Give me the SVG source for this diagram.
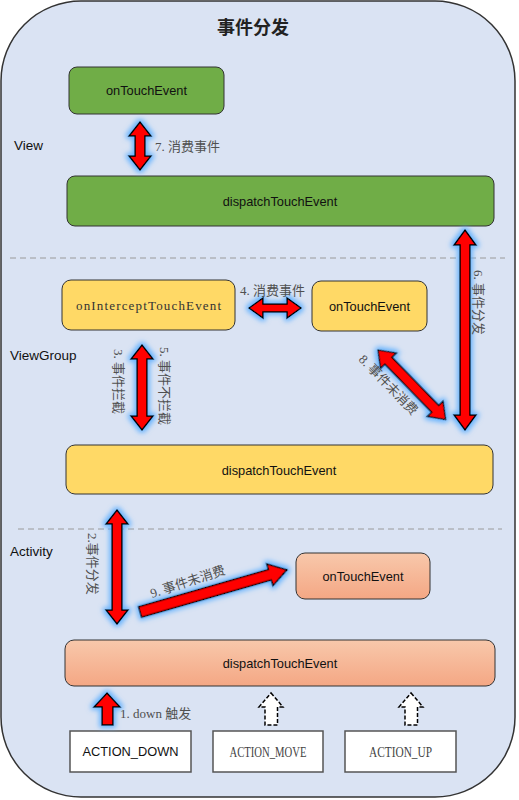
<svg xmlns="http://www.w3.org/2000/svg" width="519" height="800" viewBox="0 0 519 800">
<defs>
<style>
.box{stroke:#333;stroke-width:1}
.lbl{font-family:"Liberation Sans","Noto Sans",sans-serif;font-size:12.8px;fill:#111;text-anchor:middle}
.sec{font-family:"Liberation Sans","Noto Sans",sans-serif;font-size:13.5px;fill:#111}
.cn{font-family:"Liberation Serif","Noto Sans CJK SC",serif;font-size:13px;fill:#505050}
.arr{fill:#ff0000;stroke:#000;stroke-width:1.5;stroke-linejoin:miter;filter:url(#glow)}
.dash{stroke:#9a9a9a;stroke-width:1;stroke-dasharray:6 4}
.act{fill:#fff;stroke:#555;stroke-width:1.5}
</style>
<linearGradient id="sal" x1="0" y1="0" x2="0" y2="1">
<stop offset="0" stop-color="#f8c8ab"/>
<stop offset="1" stop-color="#f4a784"/>
</linearGradient>
<filter id="glow" x="-60%" y="-60%" width="220%" height="220%">
<feMorphology in="SourceAlpha" operator="dilate" radius="2" result="d"/>
<feGaussianBlur in="d" stdDeviation="2.5" result="b"/>
<feFlood flood-color="#5aaeff" flood-opacity="0.9"/>
<feComposite in2="b" operator="in" result="g"/>
<feMerge><feMergeNode in="g"/><feMergeNode in="SourceGraphic"/></feMerge>
</filter>
</defs>

<rect x="1" y="1" width="514" height="796" rx="80" ry="80" fill="#dae3f3" stroke="#333" stroke-width="1.5"/>
<text x="253" y="34" font-family="'Noto Sans CJK SC',sans-serif" font-size="18" font-weight="bold" fill="#222" text-anchor="middle">事件分发</text>

<line class="dash" x1="10" y1="258" x2="505" y2="258"/>
<line class="dash" x1="18" y1="529" x2="502" y2="529"/>

<text class="sec" x="14" y="150">View</text>
<text class="sec" x="10" y="360">ViewGroup</text>
<text class="sec" x="10" y="556">Activity</text>

<g id="view-onTouchEvent">
<rect class="box" x="69" y="67" width="155" height="47" rx="8" fill="#70ad47"/>
<text class="lbl" x="146.5" y="95">onTouchEvent</text>
</g>
<g id="view-dispatchTouchEvent">
<rect class="box" x="67" y="176" width="427" height="50" rx="8" fill="#70ad47"/>
<text class="lbl" x="280" y="206">dispatchTouchEvent</text>
</g>

<g id="vg-onInterceptTouchEvent">
<rect class="box" x="62" y="280" width="173" height="50" rx="9" fill="#ffd966"/>
<text x="148.5" y="310" font-family="'Liberation Serif',serif" font-size="13" fill="#333" text-anchor="middle" textLength="145" lengthAdjust="spacing">onInterceptTouchEvent</text>
</g>
<g id="vg-onTouchEvent">
<rect class="box" x="312" y="281" width="115" height="50" rx="9" fill="#ffd966"/>
<text class="lbl" x="369.5" y="311">onTouchEvent</text>
</g>
<g id="vg-dispatchTouchEvent">
<rect class="box" x="66" y="445" width="427" height="49" rx="9" fill="#ffd966"/>
<text class="lbl" x="279" y="475">dispatchTouchEvent</text>
</g>

<g id="act-onTouchEvent">
<rect class="box" x="296" y="553" width="134" height="46" rx="9" fill="url(#sal)"/>
<text class="lbl" x="363" y="581">onTouchEvent</text>
</g>
<g id="act-dispatchTouchEvent">
<rect class="box" x="65" y="640" width="430" height="46" rx="9" fill="url(#sal)"/>
<text class="lbl" x="280" y="668">dispatchTouchEvent</text>
</g>

<g id="action-down">
<rect class="act" x="70" y="731" width="121" height="41"/>
<text class="lbl" x="130.5" y="756">ACTION_DOWN</text>
</g>
<g id="action-move">
<rect class="act" x="213" y="731" width="110" height="41"/>
<text x="268" y="757" font-family="'Liberation Serif',serif" font-size="15" fill="#444" text-anchor="middle" textLength="77" lengthAdjust="spacingAndGlyphs">ACTION_MOVE</text>
</g>
<g id="action-up">
<rect class="act" x="345" y="731" width="111" height="41"/>
<text x="400.5" y="757" font-family="'Liberation Serif',serif" font-size="15" fill="#444" text-anchor="middle" textLength="63" lengthAdjust="spacingAndGlyphs">ACTION_UP</text>
</g>

<g id="connectors">
<path class="arr" d="M140,122 L151,136 L145,136 L145,156 L151,156 L140,170 L129,156 L135,156 L135,136 L129,136 Z"/>
<text class="cn" x="155" y="151">7. 消费事件</text>
<path class="arr" d="M465,230 L476,245 L470,245 L470,415 L476,415 L465,430 L454,415 L460,415 L460,245 L454,245 Z"/>
<text class="cn" transform="translate(474,270) rotate(90)">6. 事件分发</text>
<path class="arr" d="M249,308 L263,298 L263,304 L287,304 L287,298 L301,308 L287,318 L287,312 L263,312 L263,318 Z"/>
<text class="cn" x="240" y="295">4. 消费事件</text>
<path class="arr" d="M142,345 L153,359 L147,359 L147,416 L153,416 L142,430 L131,416 L137,416 L137,359 L131,359 Z"/>
<text class="cn" transform="translate(114,349) rotate(90)">3. 事件拦截</text>
<text class="cn" transform="translate(160,347) rotate(90)">5. 事件不拦截</text>
<path class="arr" transform="translate(378,350) rotate(45.8)" d="M0,0 L15,-11 L15,-5 L82,-5 L82,-11 L97,0 L82,11 L82,5 L15,5 L15,11 Z"/>
<text class="cn" transform="translate(358,360) rotate(45.8)">8. 事件未消费</text>
<path class="arr" d="M117,510 L128,524 L122,524 L122,610 L128,610 L117,624 L106,610 L112,610 L112,524 L106,524 Z"/>
<text class="cn" transform="translate(88,533) rotate(90)">2.事件分发</text>
<path class="arr" transform="translate(140,612) rotate(-16)" d="M0,-5.5 L135,-5.5 L135,-11.5 L153,0 L135,11.5 L135,5.5 L0,5.5 Z"/>
<text class="cn" transform="translate(152,598) rotate(-18)">9. 事件未消费</text>
<path class="arr" d="M107,693 L120,707 L113,707 L113,725 L102,725 L102,707 L94,707 Z"/>
<text class="cn" x="120" y="718">1. down 触发</text>
<path d="M271,693 L283,707 L277.5,707 L277.5,725 L265,725 L265,707 L259,707 Z" fill="#fff" stroke="#000" stroke-width="1.5" stroke-dasharray="4 2"/>
<path d="M411,693 L423,707 L417.5,707 L417.5,725 L405,725 L405,707 L399,707 Z" fill="#fff" stroke="#000" stroke-width="1.5" stroke-dasharray="4 2"/>
</g>
</svg>
